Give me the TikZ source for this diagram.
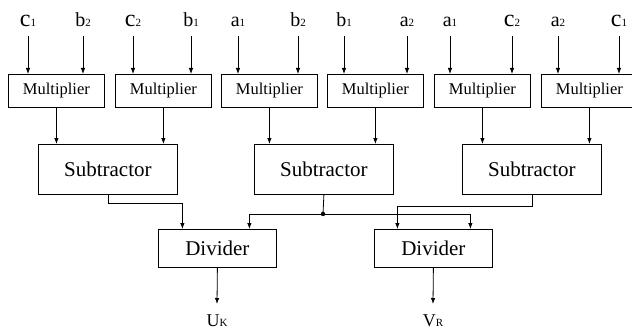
\documentclass[tikz,border=0pt]{standalone}
\usepackage{fontspec}
\setmainfont{Liberation Serif}
\usetikzlibrary{arrows.meta}
\newcommand{\lbl}[3]{{\fontsize{#1}{#1}\selectfont #2}{\fontsize{11}{11}\selectfont #3}}
\begin{document}
\begin{tikzpicture}[x=1pt,y=-1pt,
  box/.style={draw,line width=0.8pt,inner sep=0pt,anchor=north west},
  mult/.style={box,minimum width=96pt,minimum height=33pt,font=\fontsize{16.5}{18}\selectfont},
  subbox/.style={box,minimum width=139pt,minimum height=50pt,font=\fontsize{21}{24}\selectfont},
  divbox/.style={box,minimum width=118pt,minimum height=38pt,font=\fontsize{21}{24}\selectfont},
  lab/.style={anchor=base,inner sep=0pt},
  arr/.style={line width=0.8pt,-{Latex[length=6pt,width=4.5pt]}},
  wire/.style={line width=0.8pt}]
\useasboundingbox (0,0) rectangle (632,329);
% multipliers
\node[mult] (m1) at (8,74) {Multiplier};
\node[mult] (m2) at (115,74) {Multiplier};
\node[mult] (m3) at (221,74) {Multiplier};
\node[mult] (m4) at (327,74) {Multiplier};
\node[mult] (m5) at (434,74) {Multiplier};
\node[mult] (m6) at (541,74) {Multiplier};
% subtractors
\node[subbox] (s1) at (38,144) {Subtractor};
\node[subbox] (s2) at (254,144) {Subtractor};
\node[subbox] (s3) at (462,144) {Subtractor};
% dividers
\node[divbox] (d1) at (158,229) {Divider};
\node[divbox] (d2) at (374,229) {Divider};
% input labels
\node[lab] (l1) at (28,27) {\lbl{24}{c}{1}};
\node[lab] (l2) at (83,27) {\lbl{20}{b}{2}};
\node[lab] (l3) at (133,27) {\lbl{24}{c}{2}};
\node[lab] (l4) at (191,27) {\lbl{20}{b}{1}};
\node[lab] (l5) at (238,27) {\lbl{20}{a}{1}};
\node[lab] (l6) at (298,27) {\lbl{20}{b}{2}};
\node[lab] (l7) at (344,27) {\lbl{20}{b}{1}};
\node[lab] (l8) at (407,27) {\lbl{20}{a}{2}};
\node[lab] (l9) at (450,27) {\lbl{20}{a}{1}};
\node[lab] (l10) at (512,27) {\lbl{24}{c}{2}};
\node[lab] (l11) at (558,27) {\lbl{20}{a}{2}};
\node[lab] (l12) at (619,27) {\lbl{24}{c}{1}};
\foreach \l/\m in {l1/m1,l2/m1,l3/m2,l4/m2,l5/m3,l6/m3,l7/m4,l8/m4,l9/m5,l10/m5,l11/m6,l12/m6}
  \draw[arr] ([yshift=-9pt]\l.base) -- (\l.base |- \m.north);
% multipliers to subtractors
\draw[arr] (m1.south) -- (m1.south |- s1.north);
\draw[arr] (m2.south) -- (m2.south |- s1.north);
\draw[arr] (m3.south) -- (m3.south |- s2.north);
\draw[arr] (m4.south) -- (m4.south |- s2.north);
\draw[arr] (m5.south) -- (m5.south |- s3.north);
\draw[arr] (m6.south) -- (m6.south |- s3.north);
% subtractors to dividers
\coordinate (j) at (323,214);
\draw[arr] (s1.south) -- ++(0,9) -| ([xshift=-35pt]d1.north);
\draw[wire] (s2.south) -- (j);
\fill (j) circle (2.2pt);
\draw[arr] (j) -| ([xshift=32pt]d1.north);
\draw[arr] (j) -| ([xshift=37pt]d2.north);
\draw[arr] (s3.south) -- ++(0,12) -| ([xshift=-36pt]d2.north);
% outputs
\node[lab] (uk) at (217,326) {\lbl{18}{U}{K}};
\node[lab] (vr) at (433,326) {\lbl{18}{V}{R}};
\draw[arr] (d1.south) -- ([yshift=22pt]uk.base);
\draw[arr] (d2.south) -- ([yshift=22pt]vr.base);
\end{tikzpicture}
\end{document}
